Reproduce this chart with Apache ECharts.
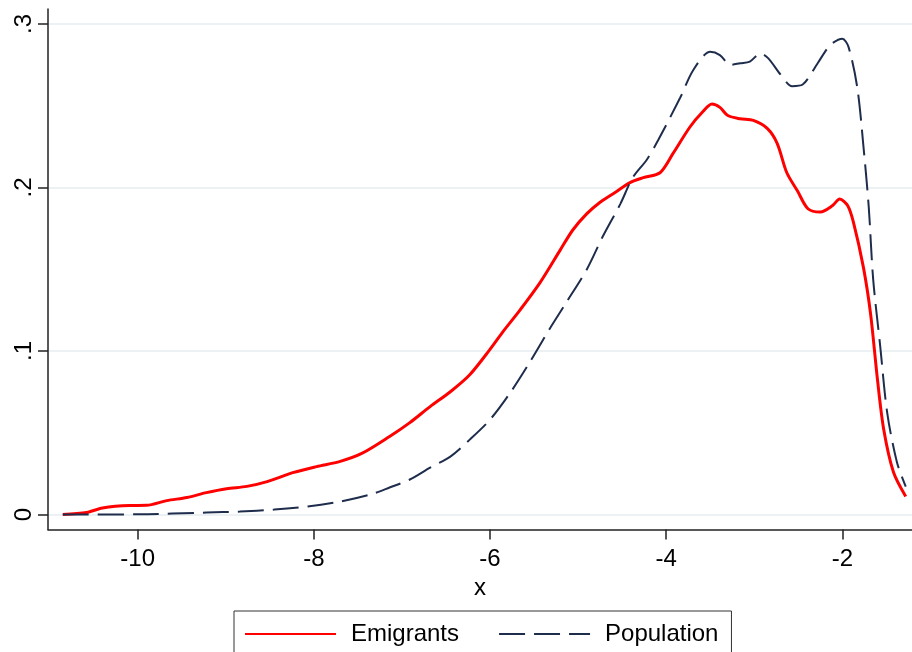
<!DOCTYPE html>
<html>
<head>
<meta charset="utf-8">
<script src="https://cdn.jsdelivr.net/npm/echarts@6/dist/echarts.min.js"></script>
<style>html,body{margin:0;padding:0;background:#fff}#c{width:912px;height:652px}</style>
</head>
<body>
<div id="c"></div>
<script>
const xTicks = [-10, -8, -6, -4, -2];
const yTicks = [0, 0.1, 0.2, 0.3];

const emigrantsX = [-10.85,-10.58,-10.40,-10.09,-9.90,-9.67,-9.44,-9.22,-8.99,-8.76,-8.53,-8.24,-7.97,-7.70,-7.45,-7.14,-6.91,-6.68,-6.45,-6.23,-6.00,-5.85,-5.66,-5.43,-5.20,-5.06,-4.90,-4.75,-4.58,-4.41,-4.26,-4.07,-3.92,-3.73,-3.59,-3.48,-3.39,-3.30,-3.16,-3.01,-2.85,-2.74,-2.63,-2.51,-2.39,-2.25,-2.11,-2.03,-1.94,-1.875,-1.76,-1.68,-1.60,-1.53,-1.42,-1.28];
const emigrantsY = [0,0.0012,0.0040,0.0055,0.0056,0.0085,0.0104,0.0134,0.0158,0.0172,0.0201,0.0256,0.0293,0.0325,0.0375,0.0477,0.0562,0.066,0.0751,0.0855,0.101,0.112,0.125,0.142,0.162,0.174,0.184,0.191,0.197,0.203,0.206,0.209,0.221,0.237,0.246,0.251,0.249,0.244,0.242,0.241,0.236,0.227,0.209,0.198,0.187,0.185,0.189,0.193,0.189,0.179,0.151,0.123,0.082,0.052,0.026,0.011];

const populationX = [-10.85,-10.0,-9.22,-8.84,-8.45,-8.07,-7.70,-7.36,-7.14,-6.91,-6.68,-6.45,-6.23,-6.00,-5.77,-5.55,-5.34,-5.13,-4.90,-4.72,-4.52,-4.38,-4.22,-4.09,-3.84,-3.69,-3.50,-3.39,-3.27,-3.16,-3.05,-2.93,-2.84,-2.70,-2.57,-2.45,-2.28,-2.14,-2.00,-1.93,-1.83,-1.76,-1.70,-1.65,-1.57,-1.49,-1.38,-1.28];
const populationY = [0,0.0001,0.0012,0.0018,0.003,0.0049,0.0079,0.0122,0.0165,0.0214,0.0287,0.0354,0.0458,0.058,0.0745,0.093,0.112,0.130,0.150,0.170,0.190,0.206,0.217,0.229,0.255,0.272,0.283,0.281,0.275,0.276,0.277,0.282,0.279,0.269,0.262,0.263,0.276,0.287,0.291,0.286,0.261,0.225,0.188,0.144,0.103,0.062,0.032,0.017];

const zip = (xs, ys) => xs.map((x, i) => [x, ys[i]]);
const FONT = 'Liberation Sans, Arial, sans-serif';

const chart = echarts.init(document.getElementById('c'));
chart.setOption({
  animation: false,
  backgroundColor: '#fff',
  grid: { left: 48, right: 0, top: 9, bottom: 122.5, containLabel: false },
  xAxis: {
    type: 'value', min: -11.018, max: -1.209,
    name: 'x', nameLocation: 'middle', nameGap: 42,
    nameTextStyle: { fontFamily: FONT, fontSize: 24, color: '#000' },
    axisLine: { show: true, onZero: false, lineStyle: { color: '#222', width: 1.5 } },
    axisTick: { show: true, length: 10, customValues: xTicks, lineStyle: { color: '#222', width: 1.5 } },
    axisLabel: { customValues: xTicks, margin: 18, fontFamily: FONT, fontSize: 24, color: '#000',
      formatter: v => String(v) },
    splitLine: { show: false }
  },
  yAxis: {
    type: 'value', min: -0.00917, max: 0.30917,
    axisLine: { show: true, onZero: false, lineStyle: { color: '#222', width: 1.5 } },
    axisTick: { show: true, length: 10, customValues: yTicks, lineStyle: { color: '#222', width: 1.5 } },
    axisLabel: { customValues: yTicks, rotate: 90, margin: 12, fontFamily: FONT, fontSize: 24, color: '#000',
      formatter: v => (Math.abs(v) < 1e-9 ? '0' : '.' + Math.round(v * 10)) },
    splitLine: { show: true, lineStyle: { color: '#e6eef0', width: 1.5 } }
  },
  legend: {
    left: 234, top: 611,
    padding: [11, 13, 20, 10],
    itemWidth: 91, itemHeight: 22, itemGap: 39,
    borderColor: '#333', borderWidth: 1,
    itemStyle: { opacity: 0, borderWidth: 0 },
    textStyle: { fontFamily: FONT, fontSize: 24, color: '#000', padding: [0, 0, 0, 10] },
    data: ['Emigrants', 'Population']
  },
  series: [
    {
      name: 'Emigrants', type: 'line', data: zip(emigrantsX, emigrantsY),
      showSymbol: false, symbol: 'none', smooth: 0.3,
      lineStyle: { color: '#ff0000', width: 3 }, itemStyle: { color: '#ff0000' }
    },
    {
      name: 'Population', type: 'line', data: zip(populationX, populationY),
      showSymbol: false, symbol: 'none', smooth: 0.3,
      lineStyle: { color: '#1f2d4d', width: 2, type: [26, 9] }, itemStyle: { color: '#1f2d4d' }
    }
  ]
});
</script>
</body>
</html>
